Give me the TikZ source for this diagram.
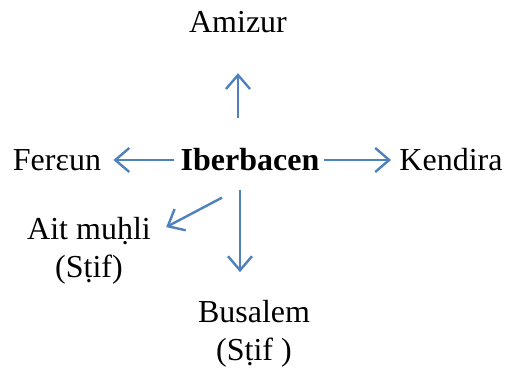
\documentclass[tikz,border=0pt]{standalone}
\usepackage{fontspec}
\setmainfont{Liberation Serif}
\usetikzlibrary{arrows.meta}
\definecolor{linkblue}{RGB}{79,129,189}
\tikzset{
	place/.style={inner sep=2pt,align=center,font=\fontsize{16}{19}\selectfont},
	centre/.style={place,font=\fontsize{16}{19}\selectfont\bfseries},
	link/.style={draw=linkblue,line width=1.2pt,
		-{Straight Barb[length=7pt,width=12pt,line width=1.2pt]}}
}
\begin{document}
\begin{tikzpicture}[x=0.5pt,y=-0.5pt]
	\useasboundingbox (0,0) rectangle (505,378);

	\node[centre] (ib) at (250,160) {Iberbacen};
	\node[place] (am) at (238,22) {Amizur};
	\node[place] (fe) at (57,160) {Fer\char"025B un};
	\node[place] (ke) at (451,160) {Kendira};
	\node[place] (ait) at (89,251) {Ait muḥli\\(Sṭif)};
	\node[place] (bu) at (254,334) {Busalem\\(Sṭif )};

	\draw[link,shorten <=13pt,shorten >=18pt] (ib.north -| am) -- (am.south);
	\draw[link,shorten <=1pt,shorten >=4pt] (ib.west) -- (fe.east);
	\draw[link,shorten <=0pt,shorten >=2pt] (ib.east) -- (ke.west);
	\draw[link] ([shift={(-28,22)}]ib.south) -- ([shift={(11,14)}]ait.north east);
	\draw[link,shorten <=7pt,shorten >=12pt] ([xshift=-5pt]ib.south) -- ([xshift=-7pt]bu.north);
\end{tikzpicture}
\end{document}
